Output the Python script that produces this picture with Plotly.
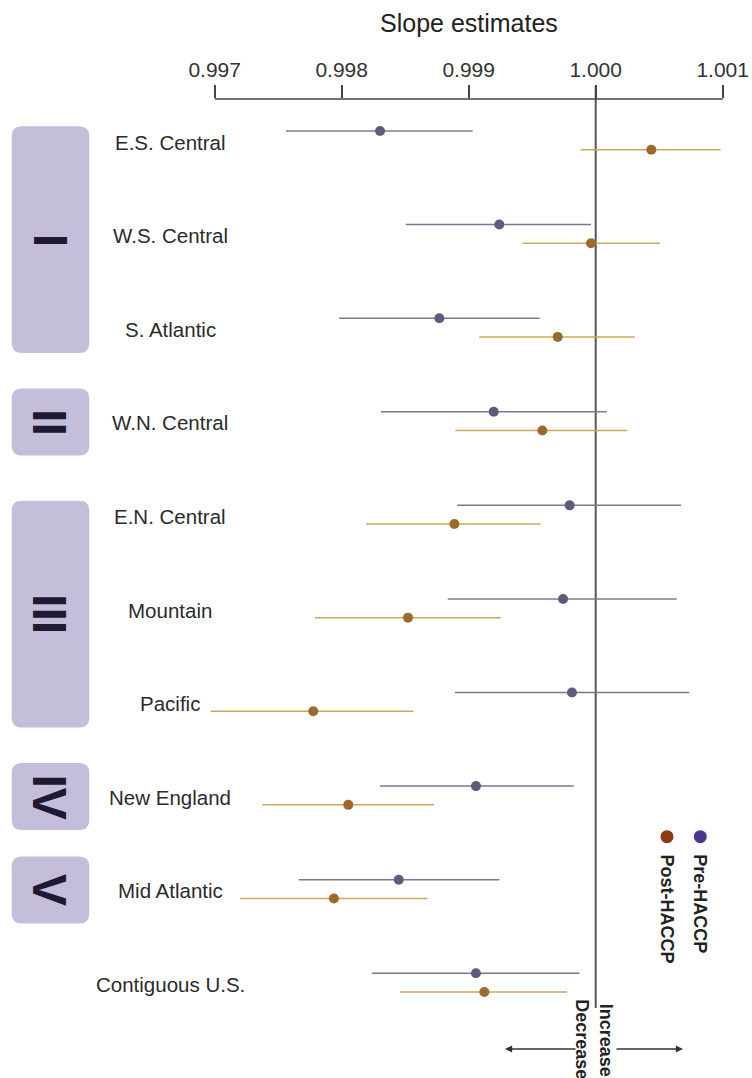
import plotly.graph_objects as go

# ---------------- data ----------------
regions = ["E.S. Central", "W.S. Central", "S. Atlantic", "W.N. Central",
           "E.N. Central", "Mountain", "Pacific", "New England",
           "Mid Atlantic", "Contiguous U.S."]

pre_est = [0.998302, 0.999241, 0.998769, 0.999197, 0.999795,
           0.999743, 0.999813, 0.999057, 0.998449, 0.999057]
pre_lo = [0.997561, 0.998504, 0.997981, 0.998309, 0.998910,
          0.998835, 0.998892, 0.998302, 0.997661, 0.998236]
pre_hi = [0.999031, 0.999963, 0.999559, 1.000087, 1.000672,
          1.000638, 1.000737, 0.999827, 0.999241, 0.999871]

post_est = [1.000438, 0.999963, 0.999701, 0.999580, 0.998887,
            0.998522, 0.997776, 0.998052, 0.997939, 0.999123]
post_lo = [0.999882, 0.999425, 0.999083, 0.998894, 0.998191,
           0.997790, 0.996969, 0.997375, 0.997199, 0.998459]
post_hi = [1.000984, 1.000504, 1.000309, 1.000249, 0.999567,
           0.999252, 0.998564, 0.998727, 0.998674, 0.999774]

groups = ["I", "II", "III", "IV", "V"]
group_first = [0, 3, 4, 7, 8]
group_last = [2, 3, 6, 7, 8]

tick_vals = [0.997, 0.998, 0.999, 1.000, 1.001]
tick_text = ["0.997", "0.998", "0.999", "1.000", "1.001"]

series_names = ["Pre-HACCP", "Post-HACCP"]
x_title = "Slope estimates"
dir_labels = ["Decrease", "Increase"]

# ---------------- layout helpers ----------------
W, H = 752, 1078
MT = 99
X_RANGE = [0.99530945, 1.00123071]
ROW0_PX, ROW_PX = 140.35, 93.59
Y_RANGE = [(H - ROW0_PX) / ROW_PX, (MT - ROW0_PX) / ROW_PX]  # reversed
OFF = 0.1

def px_x(p):
    return p / W

def px_y(p):
    return 1 - (p - MT) / (H - MT)

def xval_from_px(p):
    return X_RANGE[0] + (X_RANGE[1] - X_RANGE[0]) * p / W

def row_from_px(p):
    return (p - ROW0_PX) / ROW_PX

FONT = "Liberation Sans, Arial, sans-serif"
PRE_LINE, PRE_DOT = "#7c7892", "#605a7b"
POST_LINE, POST_DOT = "#d0a758", "#9c6a2c"

rows = list(range(len(regions)))
pre_y = [r - OFF for r in rows]
post_y = [r + OFF for r in rows]

fig = go.Figure()

fig.add_trace(go.Scatter(
    x=pre_est, y=pre_y, mode="markers", name=series_names[0],
    marker=dict(size=10, color=PRE_DOT),
    error_x=dict(type="data", symmetric=False,
                 array=[h - e for h, e in zip(pre_hi, pre_est)],
                 arrayminus=[e - l for e, l in zip(pre_est, pre_lo)],
                 color=PRE_LINE, thickness=1.5, width=0),
    showlegend=False))

fig.add_trace(go.Scatter(
    x=post_est, y=post_y, mode="markers", name=series_names[1],
    marker=dict(size=10, color=POST_DOT),
    error_x=dict(type="data", symmetric=False,
                 array=[h - e for h, e in zip(post_hi, post_est)],
                 arrayminus=[e - l for e, l in zip(post_est, post_lo)],
                 color=POST_LINE, thickness=1.5, width=0),
    showlegend=False))

shapes = []
annotations = []

# axis line spanning the tick range only
shapes.append(dict(type="line", xref="x", yref="paper",
                   x0=tick_vals[0], x1=tick_vals[-1], y0=1, y1=1,
                   line=dict(color="#444444", width=1.5)))
# reference line at 1.000
shapes.append(dict(type="line", xref="x", yref="paper",
                   x0=1.0, x1=1.0, y0=px_y(1008), y1=px_y(86),
                   line=dict(color="#555555", width=2), layer="below"))

# group boxes with roman numerals
bx0, bx1 = px_x(11.7), px_x(89.3)
rx, ry = px_x(10), 10 / ROW_PX
for g, f, l in zip(groups, group_first, group_last):
    if f == l:
        top = f - 32.5 / ROW_PX
        bot = l + 34.5 / ROW_PX
    else:
        top = f - 14 / ROW_PX
        bot = l + 25.5 / ROW_PX
    path = (f"M {bx0+rx},{top} L {bx1-rx},{top} Q {bx1},{top} {bx1},{top+ry} "
            f"L {bx1},{bot-ry} Q {bx1},{bot} {bx1-rx},{bot} "
            f"L {bx0+rx},{bot} Q {bx0},{bot} {bx0},{bot-ry} "
            f"L {bx0},{top+ry} Q {bx0},{top} {bx0+rx},{top} Z")
    shapes.append(dict(type="path", xref="paper", yref="y", path=path,
                       fillcolor="#c4beda", line=dict(width=0), layer="below"))
    annotations.append(dict(xref="paper", yref="y", x=px_x(50), y=(top + bot) / 2,
                            text=f"<b>{g}</b>", textangle=90, showarrow=False,
                            xanchor="center", yanchor="middle",
                            font=dict(family=FONT, size=48, color="#1f1a33")))

# region labels
for r, name in zip(rows, regions):
    annotations.append(dict(xref="paper", yref="y", x=px_x(170), y=r + 0.02,
                            text=name, showarrow=False, xanchor="center",
                            yanchor="middle",
                            font=dict(family=FONT, size=20.5, color="#2b2b2b")))

# title
annotations.append(dict(xref="paper", yref="paper", x=px_x(468.5), y=px_y(23),
                        text=x_title, showarrow=False, xanchor="center",
                        yanchor="middle",
                        font=dict(family=FONT, size=25, color="#222222")))

# legend (rotated)
leg_px = [700.3, 667.0]
leg_cols = ["#4a3690", "#8c3a12"]
for nm, lx, col in zip(series_names, leg_px, leg_cols):
    shapes.append(dict(type="circle", xref="paper", yref="paper",
                       xsizemode="pixel", ysizemode="pixel",
                       xanchor=px_x(lx), yanchor=px_y(836.7),
                       x0=-6.5, x1=6.5, y0=-6.5, y1=6.5,
                       fillcolor=col, line=dict(width=0)))
    annotations.append(dict(xref="paper", yref="paper", x=px_x(lx), y=px_y(852),
                            text=f"<b>{nm}</b>", textangle=90, showarrow=False,
                            xanchor="center", yanchor="top",
                            font=dict(family=FONT, size=18, color="#222222")))

# direction labels (rotated)
for txt, lx, ty in zip(dir_labels, [581.7, 606.7], [997, 1002]):
    annotations.append(dict(xref="paper", yref="paper", x=px_x(lx), y=px_y(ty),
                            text=f"<b>{txt}</b>", textangle=90, showarrow=False,
                            xanchor="center", yanchor="top",
                            font=dict(family=FONT, size=18, color="#222222")))

# direction arrows
for head, tail in [(505, 577), (683, 615)]:
    annotations.append(dict(xref="x", yref="paper", x=xval_from_px(head), y=px_y(1049),
                            axref="x", ayref="pixel", ax=xval_from_px(tail), ay=0,
                            text="", showarrow=True, arrowhead=2, arrowsize=1.1,
                            arrowwidth=1.3, arrowcolor="#333333"))

fig.update_layout(
    width=W, height=H,
    margin=dict(l=0, r=0, t=MT, b=0, pad=0),
    paper_bgcolor="white", plot_bgcolor="white",
    showlegend=False,
    shapes=shapes, annotations=annotations,
    xaxis=dict(side="top", range=X_RANGE, tickvals=tick_vals, ticktext=tick_text,
               ticks="outside", ticklen=13, tickwidth=1.5, tickcolor="#444444",
               showline=False, showgrid=False, zeroline=False,
               tickfont=dict(family=FONT, size=21, color="#333333"), fixedrange=True),
    yaxis=dict(range=Y_RANGE, visible=False, showgrid=False, zeroline=False,
               fixedrange=True),
)

fig.write_html("out.html", config={"displayModeBar": False})
